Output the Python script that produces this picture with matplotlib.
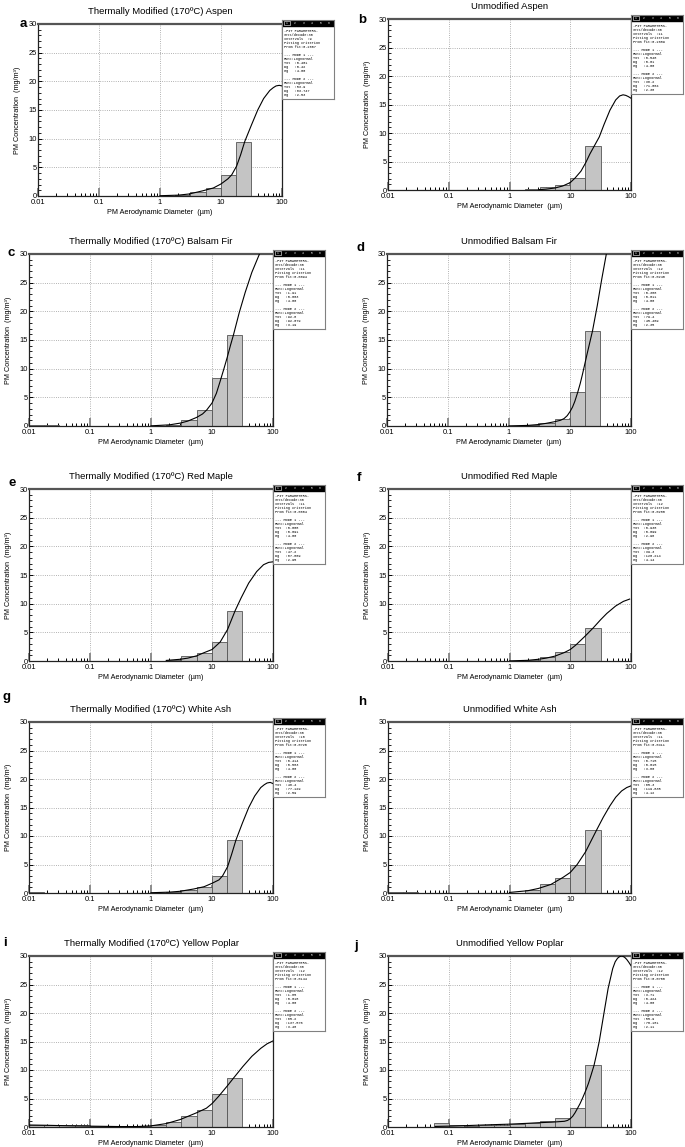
import numpy as np
import matplotlib.pyplot as plt
from matplotlib.ticker import LogLocator, MultipleLocator, NullFormatter
from matplotlib.patches import Rectangle

# panel titles
titles = ["Thermally Modified (170ºC) Aspen", "Unmodified Aspen",
          "Thermally Modified (170ºC) Balsam Fir", "Unmodified Balsam Fir",
          "Thermally Modified (170ºC) Red Maple", "Unmodified Red Maple",
          "Thermally Modified (170ºC) White Ash", "Unmodified White Ash",
          "Thermally Modified (170ºC) Yellow Poplar", "Unmodified Yellow Poplar"]
letters = ["a", "b", "c", "d", "e", "f", "g", "h", "i", "j"]

# size bins (um), 4 per decade
edges = [0.01, 0.0178, 0.0316, 0.0562, 0.1, 0.178, 0.316, 0.562, 1.0,
         1.78, 3.16, 5.62, 10.0, 17.8, 31.6]

# bar heights (mg/m3) for each bin
bars_a = [0.05, 0.05, 0, 0, 0, 0, 0, 0, 0.05, 0.15, 0.7, 1.4, 3.7, 9.5]
bars_b = [0.05, 0, 0, 0, 0, 0, 0, 0, 0, 0.1, 0.5, 0.8, 2.1, 7.7]
bars_c = [0.2, 0.15, 0, 0, 0, 0, 0, 0, 0.05, 0.2, 1.1, 2.8, 8.3, 15.9]
bars_d = [0.05, 0, 0, 0, 0, 0, 0, 0, 0, 0.1, 0.5, 1.3, 5.9, 16.6]
bars_e = [0.05, 0, 0, 0, 0, 0, 0, 0, 0.05, 0.2, 0.8, 1.4, 3.3, 8.8]
bars_f = [0, 0, 0, 0, 0, 0, 0, 0, 0, 0.15, 0.7, 1.5, 2.9, 5.8]
bars_g = [0.1, 0.05, 0, 0, 0, 0, 0, 0, 0.05, 0.2, 0.6, 1.1, 3.0, 9.3]
bars_h = [0.2, 0.15, 0, 0, 0, 0, 0, 0, 0.05, 0.6, 1.5, 2.7, 5.0, 11.0]
bars_i = [0.35, 0.35, 0.3, 0.3, 0.15, 0.1, 0.1, 0.15, 0.3, 0.8, 1.9, 3.0, 5.8, 8.6]
bars_j = [0, 0, 0, 0.7, 0.35, 0.2, 0.3, 0.4, 0.5, 0.7, 1.0, 1.6, 3.3, 10.8]

# fitted curves
curve_x_a = [1, 2, 3, 5, 7.5, 10, 13, 15, 18, 21, 24.5, 31.6, 40, 50, 63, 72, 80, 90, 100]
curve_y_a = [0.05, 0.15, 0.35, 0.9, 1.4, 2.1, 3.0, 3.7, 5.2, 7.2, 9.5, 12.4, 15.0, 17.0, 18.4, 18.9, 19.2, 19.3, 19.2]
curve_x_b = [3, 4, 5.6, 7.5, 10, 12, 15, 18, 21, 24.8, 30, 36, 45, 56, 65, 74, 82, 90, 100]
curve_y_b = [0.05, 0.15, 0.35, 0.7, 1.3, 2.1, 3.3, 4.8, 6.3, 7.7, 9.3, 11.5, 14.0, 15.8, 16.5, 16.7, 16.6, 16.4, 16.1]
curve_x_c = [1, 2, 3, 4, 5.6, 7, 8.2, 10, 11.8, 13.6, 15.6, 17.8, 20, 22.5, 28, 35, 45, 60]
curve_y_c = [0.03, 0.2, 0.5, 0.85, 1.5, 2.1, 2.8, 4.0, 5.7, 7.8, 9.9, 12.0, 14.0, 15.9, 19.8, 23.3, 26.8, 30.0]
curve_x_d = [1, 2, 3, 4, 5.6, 7, 8, 9, 10, 11, 12, 13.4, 14.7, 16, 19, 23.4, 28, 33, 39.4]
curve_y_d = [0.02, 0.1, 0.25, 0.45, 0.75, 1.0, 1.3, 1.8, 2.5, 3.3, 4.3, 5.9, 7.4, 9.0, 12.5, 16.6, 21.0, 25.5, 30.0]
curve_x_e = [1.78, 3, 4, 5.6, 7.2, 10, 13.6, 18, 24, 30, 40, 54, 70, 85, 100]
curve_y_e = [0.1, 0.3, 0.5, 0.9, 1.4, 2.0, 3.3, 5.5, 8.8, 11.0, 13.6, 15.6, 16.8, 17.2, 17.3]
curve_x_f = [1, 2, 3, 4, 5.6, 7.9, 10, 12.4, 17.8, 24, 31.6, 40, 56, 75, 95]
curve_y_f = [0.02, 0.12, 0.3, 0.5, 0.85, 1.45, 2.0, 2.8, 4.4, 5.8, 7.2, 8.3, 9.6, 10.4, 10.8]
curve_x_g = [1, 2, 3, 5, 7.4, 10, 13, 14.9, 18, 21, 24.7, 31.6, 40, 50, 63, 72, 80, 90, 100]
curve_y_g = [0.05, 0.15, 0.3, 0.7, 1.1, 1.7, 2.3, 3.0, 4.6, 6.8, 9.3, 12.3, 15.0, 17.0, 18.5, 19.0, 19.3, 19.4, 19.2]
curve_x_h = [1, 2, 3, 4.8, 7.5, 10, 13, 17.8, 27, 35, 45, 56, 70, 85, 100]
curve_y_h = [0.1, 0.4, 0.8, 1.5, 2.7, 3.6, 5.0, 7.2, 11.0, 13.3, 15.3, 16.8, 17.9, 18.5, 18.8]
curve_x_i = [0.01, 0.02, 0.05, 0.1, 0.3, 0.6, 1, 1.78, 3, 4.1, 5.6, 8.1, 10, 12.9, 17.8, 22.6, 32, 45, 63, 80, 100]
curve_y_i = [0.35, 0.3, 0.2, 0.15, 0.08, 0.08, 0.2, 0.6, 1.3, 1.9, 2.5, 3.3, 4.1, 5.4, 7.2, 8.6, 10.6, 12.4, 13.8, 14.6, 15.1]
curve_x_j = [0.06, 0.1, 0.2, 0.5, 1, 2, 3, 5, 8, 9, 10, 11, 12, 13.2, 14.5, 16, 18, 20, 22, 24.6, 27, 30,
             35.4, 42, 50, 55, 60, 65, 71, 78, 85, 92, 100]
curve_y_j = [0.1, 0.15, 0.25, 0.4, 0.5, 0.65, 0.75, 0.85, 1.0, 1.15, 1.45, 1.9, 2.5, 3.3, 4.1, 5.1, 6.4, 7.7, 9.1, 10.8, 12.7, 15.0,
             19.6, 24.3, 27.8, 29.0, 29.6, 29.9, 30.0, 29.8, 29.4, 28.9, 28.3]

# fit parameter boxes
intervals = ["9", "11", "11", "12", "11", "12", "10", "11", "12", "12"]
fit_crit = ["0.2607", "0.1089", "0.0094", "0.0240", "0.0604", "0.0280", "0.0720", "0.0411", "0.0144", "0.0700"]
m1_tot = ["0.401", "0.548", "1.91", "0.388", "0.008", "0.938", "0.414", "0.715", "1.85", "3.71"]
m1_dg = ["0.42", "0.01", "0.003", "0.011", "0.091", "0.099", "0.583", "0.015", "0.018", "0.424"]
m1_sg = ["4.00", "4.00", "4.00", "4.00", "4.00", "2.96", "4.00", "3.80", "4.00", "4.00"]
m2_tot = ["53.9", "36.2", "92.8", "79.4", "47.2", "39.3", "46.4", "65.3", "65.2", "55.9"]
m2_dg = ["83.747", "71.004", "92.079", "45.409", "87.869", "120.214", "77.129", "119.835", "137.576", "70.181"]
m2_sg = ["2.53", "2.38", "3.19", "2.35", "2.95", "4.14", "2.59", "4.12", "3.48", "2.11"]

bars = [bars_a, bars_b, bars_c, bars_d, bars_e, bars_f, bars_g, bars_h, bars_i, bars_j]
cx = [curve_x_a, curve_x_b, curve_x_c, curve_x_d, curve_x_e, curve_x_f, curve_x_g, curve_x_h, curve_x_i, curve_x_j]
cy = [curve_y_a, curve_y_b, curve_y_c, curve_y_d, curve_y_e, curve_y_f, curve_y_g, curve_y_h, curve_y_i, curve_y_j]

W, H = 685, 1147
fig = plt.figure(figsize=(W / 100, H / 100), dpi=100)
plt.rcParams['font.family'] = ['Liberation Sans', 'DejaVu Sans']

# axes boxes in pixels: left, top, width, height
ax_px = [(38, 24, 244, 172), (388, 19, 243, 171),
         (29, 254, 244, 172), (387, 254, 244, 172),
         (29, 489, 244, 172), (388, 489, 243, 172),
         (29, 722, 244, 171), (388, 722, 243, 171),
         (29, 956, 244, 171), (388, 956, 243, 171)]
letter_px = [(23, 24), (362, 20), (11, 253), (361, 248), (12, 483),
             (359, 478), (6, 697), (362, 702), (5, 943), (356, 946)]


def fpos(l, t, w, h):
    return [l / W, 1 - (t + h) / H, w / W, h / H]


widths = np.diff(edges)
for k in range(10):
    l, t, w, h = ax_px[k]
    ax = fig.add_axes(fpos(l, t, w, h))
    ax.set_xscale('log')
    ax.set_xlim(0.01, 100)
    ax.set_ylim(0, 30)
    ax.grid(True, which='major', color='#999999', linestyle=':', linewidth=0.6)
    ax.set_axisbelow(True)

    hts = np.array(bars[k])
    keep = hts > 0
    ax.bar(np.array(edges[:-1])[keep], hts[keep], width=widths[keep], align='edge',
           color='#c4c4c4', edgecolor='#555555', linewidth=0.6, zorder=2)
    ax.plot(cx[k], cy[k], color='black', linewidth=0.8, zorder=3)

    ax.set_xticks([0.01, 0.1, 1, 10, 100])
    ax.set_xticklabels(['0.01', '0.1', '1', '10', '100'])
    ax.xaxis.set_minor_locator(LogLocator(base=10, subs=np.arange(2, 10), numticks=20))
    ax.xaxis.set_minor_formatter(NullFormatter())
    ax.set_yticks(range(0, 31, 5))
    ax.yaxis.set_minor_locator(MultipleLocator(1))
    ax.tick_params(axis='x', which='major', direction='in', length=5.5, width=1.4,
                   color='#8c8c8c', labelsize=5.4, pad=2.2)
    ax.tick_params(axis='x', which='minor', direction='in', length=2.2, width=0.7, color='black')
    ax.tick_params(axis='y', which='major', direction='in', length=3, width=0.7,
                   color='black', labelsize=5.4, pad=1)
    ax.tick_params(axis='y', which='minor', direction='in', length=1.8, width=0.6, color='black')
    for s in ['left', 'bottom', 'right']:
        ax.spines[s].set_linewidth(0.9)
        ax.spines[s].set_color('#222222')
    ax.spines['top'].set_linewidth(1.6)
    ax.spines['top'].set_color('#555555')

    ax.set_xlabel('PM Aerodynamic Diameter  (µm)', fontsize=5.2, labelpad=2)
    ax.set_ylabel('PM Concentration  (mg/m³)', fontsize=5.2, labelpad=5)
    ax.text(0.5, 1 + 13 / h, titles[k], transform=ax.transAxes, ha='center',
            va='center', fontsize=6.8)
    lx, ly = letter_px[k]
    fig.text(lx / W, 1 - ly / H, letters[k], ha='center', va='center',
             fontsize=9.5, fontweight='bold')

    # fit parameter box
    bx = fig.add_axes(fpos(l + w, t - 4, 52, 79))
    bx.set_xlim(0, 52)
    bx.set_ylim(79, 0)
    bx.set_xticks([])
    bx.set_yticks([])
    for s in bx.spines.values():
        s.set_color('#808080')
        s.set_linewidth(0.8)
    bx.add_patch(Rectangle((0, 0), 52, 6, color='black'))
    bx.add_patch(Rectangle((1.5, 0.8), 6, 4.6, fill=False, edgecolor='white', linewidth=0.4))
    for n in range(6):
        bx.text(4.5 + n * 8.5, 3.2, str(n + 1), color='white', fontsize=2.2,
                ha='center', va='center', family='Liberation Mono')
    lines = ["-FIT PARAMETERS-", "Ints/decade:30", "Intervals  :" + intervals[k],
             "Fitting Criterion", "From fit:" + fit_crit[k], "",
             "--- MODE 1 ---", "Func:Lognormal", "Tot  :" + m1_tot[k],
             "Dg   :" + m1_dg[k], "σg   :" + m1_sg[k], "",
             "--- MODE 2 ---", "Func:Lognormal", "Tot  :" + m2_tot[k],
             "Dg   :" + m2_dg[k], "σg   :" + m2_sg[k]]
    for i, s in enumerate(lines):
        bx.text(2, 11 + i * 4.0, s, fontsize=2.6, va='center', ha='left',
                family=['Liberation Mono', 'DejaVu Sans Mono'])

fig.savefig('out.png', dpi=100)
